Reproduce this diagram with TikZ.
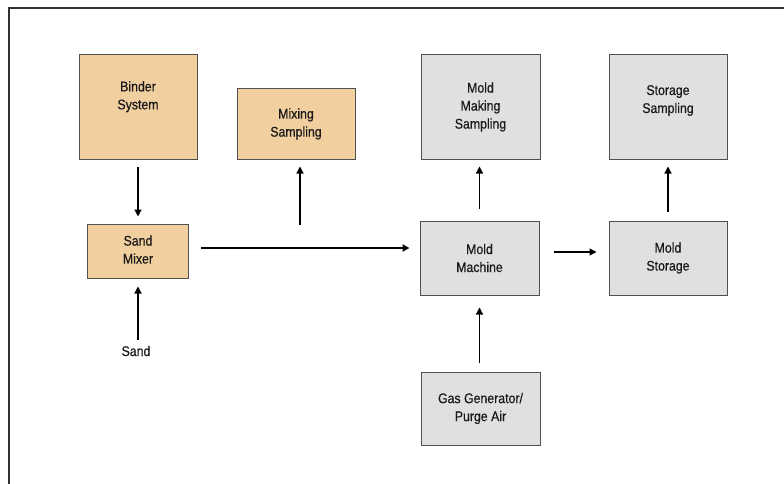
\documentclass[tikz,border=0pt]{standalone}
\usepackage{fontspec}
\setmainfont{Liberation Sans}[FakeStretch=0.88, FakeBold=0.6]
\usetikzlibrary{arrows.meta}
\definecolor{tan}{HTML}{F2CF9F}
\definecolor{lgray}{HTML}{DFE0E2}
\definecolor{edge}{HTML}{505050}
\definecolor{ink}{HTML}{1A1A1A}
\tikzset{
  box/.style={draw=edge, line width=1pt, inner sep=0pt, align=center, font=\fontsize{14}{18}\selectfont, text=ink},
  tanbox/.style={box, fill=tan},
  graybox/.style={box, fill=lgray},
  txt/.style={inner sep=0pt, align=center, font=\fontsize{14}{18}\selectfont, text=ink},
  arr/.style={draw=black, line width=1.3pt, -{Triangle[length=7pt,width=7pt]}},
  frameline/.style={draw=ink!90, line width=2pt}
}
\begin{document}
\begin{tikzpicture}[x=1pt,y=-1pt]
\useasboundingbox (0,0) rectangle (784,484);
% frame
\coordinate (f1) at (9,484);
\coordinate (f2) at (9,8);
\coordinate (f3) at (784,8);
\draw[frameline] (f1) -- (f2) -- (f3);
% boxes
\node[tanbox, minimum width=118pt, minimum height=104pt] (binder) at (138,107) {};
\node[txt, anchor=north] (bindert) at (138,81) {Binder\\System};
\node[tanbox, minimum width=118pt, minimum height=70pt] (mixing) at (296,124) {Mixing\\Sampling};
\node[tanbox, minimum width=101pt, minimum height=54pt] (mixer) at (138,251) {Sand\\Mixer\vphantom{p}};
\node[graybox, minimum width=119pt, minimum height=104pt] (mmsamp) at (480.5,107) {Mold\\Making\\Sampling};
\node[graybox, minimum width=118pt, minimum height=104pt] (ssamp) at (668,107) {};
\node[txt, anchor=north] (ssampt) at (668,85) {Storage\\Sampling};
\node[graybox, minimum width=119pt, minimum height=74pt] (machine) at (479.5,258) {Mold\\Machine};
\node[graybox, minimum width=118pt, minimum height=74pt] (mstore) at (668,258) {Mold\\Storage};
\node[graybox, minimum width=119pt, minimum height=73pt] (gas) at (480.5,408.5) {Gas Generator/\\Purge Air};
\node[txt] (sand) at (136,351) {Sand};
% connectors
\coordinate (hl) at (0,248);
\coordinate (ms0) at (300,225);
\draw[arr] ([yshift=-7pt]binder.south) -- ([yshift=7pt]mixer.north);
\draw[arr] (ms0) -- ([yshift=-7pt]mixing.south -| ms0);
\draw[arr, line width=2pt] ([xshift=12pt]mixer.east |- hl) -- ([xshift=-10pt]machine.west |- hl);
\draw[arr] ([yshift=12pt]machine.north) -- ([yshift=-7pt]mmsamp.south -| machine.north);
\draw[arr] ([yshift=9pt]mstore.north) -- ([yshift=-7pt]ssamp.south);
\draw[arr] ([xshift=14pt]machine.east |- 0,252) -- ([xshift=-12pt]mstore.west |- 0,252);
\draw[arr] ([yshift=9pt]gas.north -| machine.south) -- ([yshift=-12pt]machine.south);
\draw[arr] ([yshift=6pt]sand.north -| mixer.south) -- ([yshift=-8pt]mixer.south);
\end{tikzpicture}
\end{document}
